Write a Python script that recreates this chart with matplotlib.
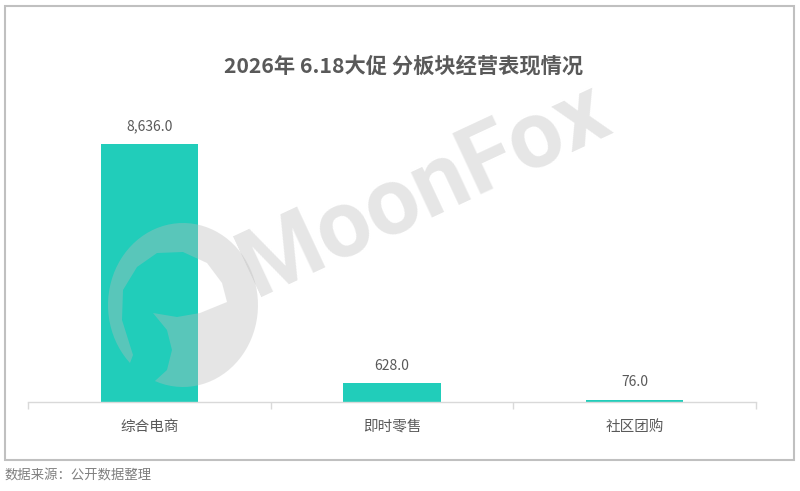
import numpy as np
import matplotlib
matplotlib.use("Agg")
from matplotlib import pyplot as plt
from matplotlib.patches import Rectangle, PathPatch
from matplotlib.path import Path

plt.rcParams['font.family'] = ['Noto Sans CJK SC', 'DejaVu Sans']

categories = ['综合电商', '即时零售', '社区团购']
values = [8636.0, 628.0, 76.0]
title = '2026年 6.18大促 分板块经营表现情况'
source = '数据来源：公开数据整理'

bar_color = '#21cdba'
text_color = '#595959'
axis_color = '#d9d9d9'

fig = plt.figure(figsize=(8, 4.91), dpi=100)
W, H = 800, 491

# frame around the chart
fig.add_artist(Rectangle((5 / W, 1 - 460 / H), 789 / W, 454 / H, transform=fig.transFigure,
                         fill=False, edgecolor='#c0c0c0', linewidth=1.5))

ax = fig.add_axes([28 / W, (H - 402) / H, 728 / W, 302 / H])
xs = list(range(len(categories)))
bars = ax.bar(xs, values, width=0.4, color=bar_color, zorder=2)
ax.set_xlim(-0.5, len(categories) - 0.5)
ax.set_ylim(0, 10100)

for x, v in zip(xs, values):
    ax.annotate(f'{v:,.1f}', (x, v), xytext=(0, 12.5), textcoords='offset points',
                ha='center', va='center', fontsize=10, color=text_color)

for s in ['top', 'right', 'left']:
    ax.spines[s].set_visible(False)
ax.spines['bottom'].set_color(axis_color)
ax.spines['bottom'].set_linewidth(1)
ax.set_yticks([])
ax.set_xticks(xs)
ax.set_xticklabels(categories, fontsize=10.5, color=text_color)
ax.tick_params(axis='x', which='major', length=0, pad=13)
ax.set_xticks([i - 0.5 for i in range(len(categories) + 1)], minor=True)
ax.tick_params(axis='x', which='minor', length=5, color=axis_color, width=1)
ax.patch.set_alpha(0)

fig.text(404 / W, 1 - 66 / H, title, ha='center', va='center', fontsize=15.3,
         fontweight='bold', color=text_color)
fig.text(5 / W, 1 - 475 / H, source, ha='left', va='center', fontsize=9.6,
         color='#7f7f7f', style='italic')

# watermark: word + logo (pixel coords, y down)
wm_gray = '#bbbbbb'
wm_alpha = 0.37
fig.text(424 / W, 1 - 190 / H, 'MoonFox', ha='center', va='center', rotation=25,
         fontsize=68, fontweight='bold', color=wm_gray, alpha=wm_alpha,
         family=['Roboto', 'DejaVu Sans'], zorder=5)

cx, cy, rx, ry = 183, 305, 75, 82
t = np.radians(np.linspace(225, -112, 80))
outer = [(cx + rx * np.cos(a), cy - ry * np.sin(a)) for a in t]
inner = [(167, 370), (172, 350), (167, 330), (153, 313), (177, 317), (200, 313),
         (227, 302), (222, 283), (207, 263), (183, 252), (157, 253), (137, 267),
         (123, 290), (122, 320), (133, 355)]
pts = outer + inner
pts.append(pts[0])
verts = [(px / W, 1 - py / H) for px, py in pts]
codes = [Path.MOVETO] + [Path.LINETO] * (len(verts) - 2) + [Path.CLOSEPOLY]
fig.add_artist(PathPatch(Path(verts, codes), transform=fig.transFigure,
                         facecolor=wm_gray, alpha=wm_alpha, edgecolor='none', zorder=5))

fig.savefig('out.png', dpi=100)
